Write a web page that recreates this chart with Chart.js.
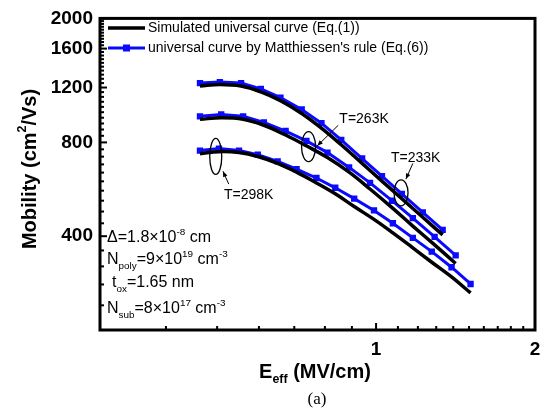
<!DOCTYPE html>
<html>
<head>
<meta charset="utf-8">
<script src="https://cdn.jsdelivr.net/npm/chart.js@4.4.1/dist/chart.umd.min.js"></script>
<style>
  html, body { margin: 0; padding: 0; background: #fff; }
  #wrap { width: 551px; height: 415px; }
</style>
</head>
<body>
<div id="wrap"><canvas id="c" width="551" height="415"></canvas></div>
<script>
// E_eff (MV/cm) 與 mobility (cm^2/Vs)，從圖上讀值
const E233   = [0.464, 0.506, 0.555, 0.605, 0.659, 0.723, 0.788, 0.859, 0.941, 1.026, 1.119, 1.226, 1.337];
const sim233 = [1213, 1227, 1213, 1162, 1089, 991, 889, 786, 685, 601, 528, 460, 404];
const mat233 = [1240, 1249, 1240, 1187, 1113, 1020, 922, 815, 710, 623, 547, 477, 419];

const E263   = [0.464, 0.509, 0.560, 0.613, 0.674, 0.738, 0.809, 0.889, 0.974, 1.072, 1.174, 1.291, 1.415];
const sim263 = [949, 959, 949, 908, 845, 780, 715, 642, 567, 494, 431, 375, 327];
const mat263 = [970, 984, 970, 928, 870, 809, 742, 665, 593, 520, 457, 398, 347];

const E298   = [0.464, 0.504, 0.550, 0.597, 0.651, 0.707, 0.771, 0.837, 0.909, 0.991, 1.076, 1.174, 1.275, 1.390, 1.510];
const sim298 = [736, 747, 742, 721, 685, 642, 593, 547, 498, 453, 410, 367, 330, 296, 263];
const mat298 = [753, 764, 753, 731, 695, 656, 615, 572, 528, 484, 440, 395, 357, 318, 281];

// 刻度
const xTicks   = [0.3, 0.4, 0.5, 0.6, 0.7, 0.8, 0.9, 1, 1.1, 1.2, 1.3, 1.4, 1.5, 1.6, 1.7, 1.8, 1.9, 2];
const xLabeled = [1, 2];
const yTicks   = [200, 240, 280, 320, 360, 400, 440, 480, 520, 560, 600, 640, 680, 720, 760, 800,
                  840, 880, 920, 960, 1000, 1040, 1080, 1120, 1160, 1200, 1240, 1280, 1320, 1360,
                  1400, 1440, 1480, 1520, 1560, 1600, 1640, 1680, 1720, 1760, 1800, 1840, 1880,
                  1920, 1960, 2000];
const yLabeled = [400, 800, 1200, 1600, 2000];

const legendText = ['Simulated universal curve (Eq.(1))', "universal curve by Matthiessen's rule (Eq.(6))"];

// 溫度標註: 橢圓中心、箭頭 (資料座標)
const notes = [
  { text: 'T=298K', tx: 0.515, ty: 543, ex: 0.497, ey: 721, rx: 6, ry: 18, a0: [0.526, 588], a1: [0.513, 646] },
  { text: 'T=263K', tx: 0.852, ty: 949, ex: 0.745, ey: 775, rx: 7, ry: 15, a0: [0.848, 908], a1: [0.774, 780] },
  { text: 'T=233K', tx: 1.067, ty: 710, ex: 1.115, ey: 551, rx: 7, ry: 13, a0: [1.174, 685], a1: [1.139, 610] }
];

const BLUE = '#0a0aff';
const SANS = '"Liberation Sans", Arial, sans-serif';

const pts = (xs, ys) => xs.map((v, i) => ({ x: v, y: ys[i] }));
const sim = (xs, ys) => ({ data: pts(xs, ys), borderColor: '#000', borderWidth: 3.5, pointRadius: 0, tension: 0.4 });
const mat = (xs, ys) => ({ data: pts(xs, ys), borderColor: BLUE, backgroundColor: BLUE, borderWidth: 3,
                           pointStyle: 'rect', pointRadius: 4.5, pointBorderWidth: 0, tension: 0 });

/* ---------- 上下標文字 ---------- */
function rich(ctx, x, y, parts, size, weight, align) {
  const font = (s) => `${weight} ${s}px ${SANS}`;
  const sz = (k) => (k === 'n' ? size : size * 0.62);
  let w = 0;
  parts.forEach(([t, k]) => { ctx.font = font(sz(k)); w += ctx.measureText(t).width; });
  let cx = align === 'center' ? x - w / 2 : x;
  parts.forEach(([t, k]) => {
    ctx.font = font(sz(k));
    const dy = k === 'sub' ? size * 0.38 : k === 'sup' ? -size * 0.38 : 0;
    ctx.fillText(t, cx, y + dy);
    cx += ctx.measureText(t).width;
  });
}

/* ---------- 外框、內刻度、圖例、標註 ---------- */
const decor = {
  id: 'decor',
  afterDatasetsDraw(chart) {
    const { ctx, chartArea: a, scales: { x, y } } = chart;
    ctx.save();
    ctx.strokeStyle = '#000';
    ctx.fillStyle = '#000';

    // 內向刻度
    ctx.lineWidth = 2;
    xTicks.forEach(v => {
      const px = x.getPixelForValue(v);
      const len = xLabeled.includes(v) ? 7 : 4;
      ctx.beginPath(); ctx.moveTo(px, a.bottom); ctx.lineTo(px, a.bottom - len); ctx.stroke();
    });
    yTicks.forEach(v => {
      const py = y.getPixelForValue(v);
      const len = yLabeled.includes(v) ? 7 : 4;
      ctx.beginPath(); ctx.moveTo(a.left, py); ctx.lineTo(a.left + len, py); ctx.stroke();
    });

    // 外框
    ctx.lineWidth = 3;
    ctx.strokeRect(a.left, a.top, a.width, a.height);

    // 圖例
    const lx0 = a.left + 8, lx1 = a.left + 45;
    ctx.lineWidth = 3.5;
    ctx.beginPath(); ctx.moveTo(lx0, 28); ctx.lineTo(lx1, 28); ctx.stroke();
    ctx.strokeStyle = BLUE; ctx.fillStyle = BLUE; ctx.lineWidth = 3;
    ctx.beginPath(); ctx.moveTo(lx0, 48); ctx.lineTo(lx1, 48); ctx.stroke();
    ctx.fillRect((lx0 + lx1) / 2 - 3.5, 44.5, 7, 7);
    ctx.fillStyle = '#000'; ctx.strokeStyle = '#000';
    ctx.font = `14px ${SANS}`;
    ctx.textBaseline = 'middle';
    ctx.textAlign = 'left';
    ctx.fillText(legendText[0], lx1 + 3, 28);
    ctx.fillText(legendText[1], lx1 + 3, 48);

    // 溫度標註
    notes.forEach(n => {
      ctx.lineWidth = 1.3;
      ctx.beginPath();
      ctx.ellipse(x.getPixelForValue(n.ex), y.getPixelForValue(n.ey), n.rx, n.ry, 0, 0, Math.PI * 2);
      ctx.stroke();
      const x0 = x.getPixelForValue(n.a0[0]), y0 = y.getPixelForValue(n.a0[1]);
      const x1 = x.getPixelForValue(n.a1[0]), y1 = y.getPixelForValue(n.a1[1]);
      ctx.lineWidth = 1;
      ctx.beginPath(); ctx.moveTo(x0, y0); ctx.lineTo(x1, y1); ctx.stroke();
      const ang = Math.atan2(y1 - y0, x1 - x0);
      ctx.beginPath();
      ctx.moveTo(x1, y1);
      ctx.lineTo(x1 - 6 * Math.cos(ang - 0.4), y1 - 6 * Math.sin(ang - 0.4));
      ctx.lineTo(x1 - 6 * Math.cos(ang + 0.4), y1 - 6 * Math.sin(ang + 0.4));
      ctx.closePath(); ctx.fill();
      ctx.font = `14px ${SANS}`;
      ctx.fillText(n.text, x.getPixelForValue(n.tx), y.getPixelForValue(n.ty));
    });

    // 參數文字
    const px = a.left + 7;
    rich(ctx, px, 238, [['\u0394=1.8\u00d710', 'n'], ['-8', 'sup'], [' cm', 'n']], 16, 'normal', 'left');
    rich(ctx, px, 260, [['N', 'n'], ['poly', 'sub'], ['=9\u00d710', 'n'], ['19', 'sup'], [' cm', 'n'], ['-3', 'sup']], 16, 'normal', 'left');
    rich(ctx, px + 5, 283, [['t', 'n'], ['ox', 'sub'], ['=1.65 nm', 'n']], 16, 'normal', 'left');
    rich(ctx, px, 309, [['N', 'n'], ['sub', 'sub'], ['=8\u00d710', 'n'], ['17', 'sup'], [' cm', 'n'], ['-3', 'sup']], 16, 'normal', 'left');

    // 軸標題
    rich(ctx, 315, 372, [['E', 'n'], ['eff', 'sub'], [' (MV/cm)', 'n']], 20, 'bold', 'center');
    ctx.save();
    ctx.translate(30, 169);
    ctx.rotate(-Math.PI / 2);
    rich(ctx, 0, 0, [['Mobility (cm', 'n'], ['2', 'sup'], ['/Vs)', 'n']], 20, 'bold', 'center');
    ctx.restore();

    ctx.font = `17px "Liberation Serif", "Times New Roman", serif`;
    ctx.textAlign = 'center';
    ctx.fillText('(a)', 317, 400);
    ctx.restore();
  }
};

const datasets = [
  sim(E233, sim233), sim(E263, sim263), sim(E298, sim298),
  mat(E233, mat233), mat(E263, mat263), mat(E298, mat298)
];

new Chart(document.getElementById('c'), {
  type: 'line',
  data: { datasets },
  options: {
    responsive: false,
    animation: false,
    devicePixelRatio: 1,
    layout: { padding: { top: 12, right: 16, left: 0, bottom: 0 } },
    plugins: { legend: { display: false }, tooltip: { enabled: false } },
    scales: {
      x: {
        type: 'logarithmic', min: 0.3, max: 2,
        grid: { display: false, drawTicks: false }, border: { display: false },
        afterBuildTicks: (s) => { s.ticks = xTicks.map(v => ({ value: v })); },
        afterFit: (s) => { s.height = 85; },
        ticks: {
          autoSkip: false, maxRotation: 0, padding: 8, color: '#000',
          font: { family: SANS, size: 19, weight: 'bold' },
          callback: (v) => (xLabeled.includes(v) ? String(v) : '')
        }
      },
      y: {
        type: 'logarithmic', min: 200, max: 2000,
        grid: { display: false, drawTicks: false }, border: { display: false },
        afterBuildTicks: (s) => { s.ticks = yTicks.map(v => ({ value: v })); },
        afterFit: (s) => { s.width = 100; },
        ticks: {
          autoSkip: false, padding: 7, color: '#000',
          font: { family: SANS, size: 19, weight: 'bold' },
          callback: (v) => (yLabeled.includes(v) ? String(v) : '')
        }
      }
    }
  },
  plugins: [decor]
});
</script>
</body>
</html>
